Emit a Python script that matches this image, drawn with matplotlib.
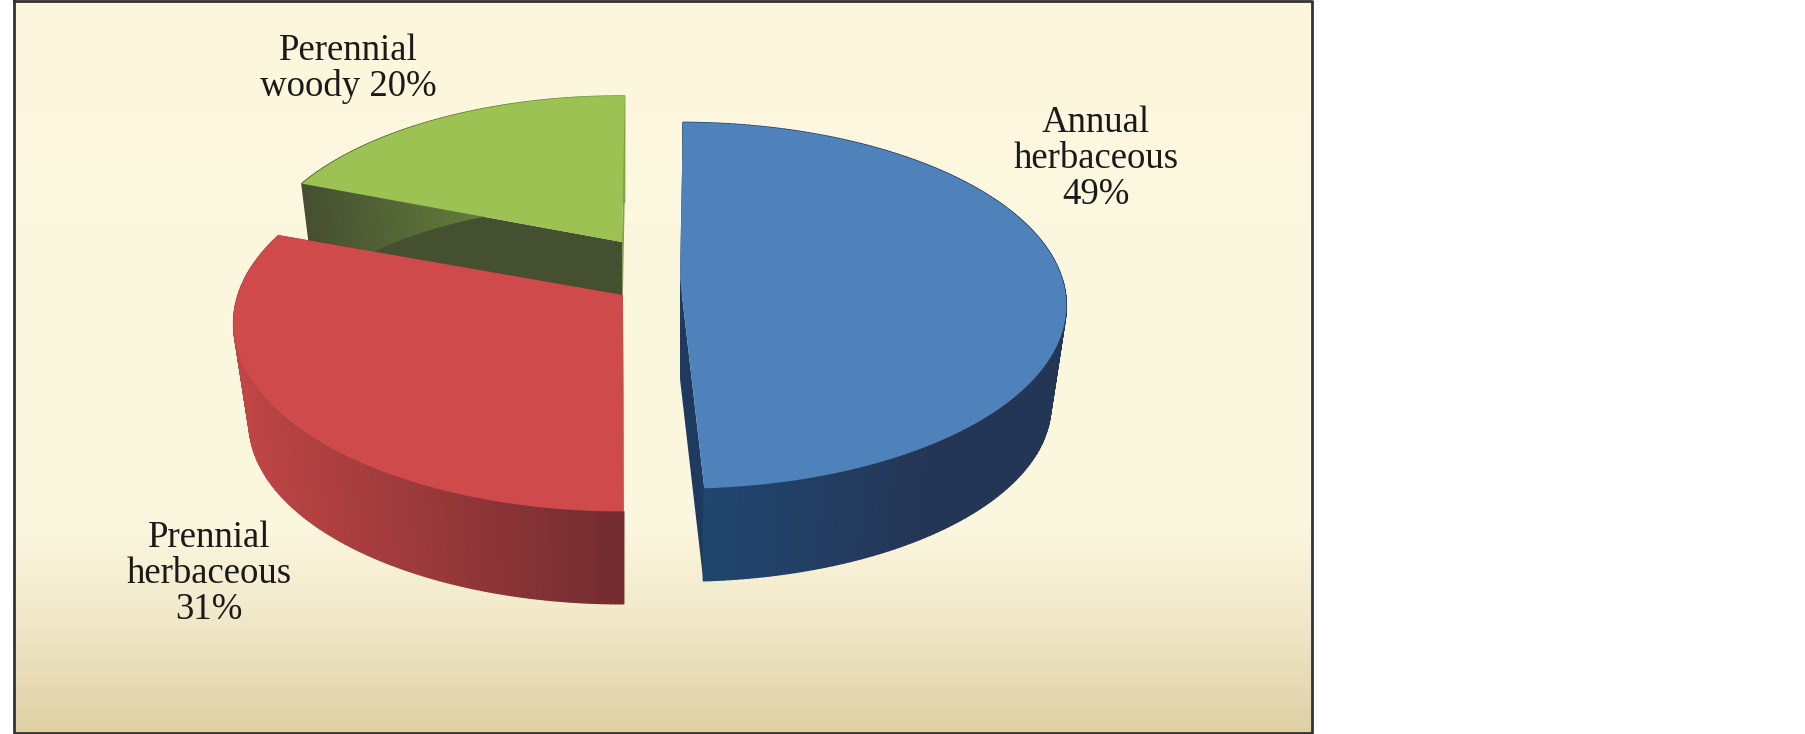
import numpy as np
import matplotlib
matplotlib.use('Agg')
import matplotlib.pyplot as plt
from matplotlib.colors import LinearSegmentedColormap, to_rgb

# Data
labels = ['Annual\nherbaceous\n49%', 'Prennial\nherbaceous\n31%', 'Perennial\nwoody 20%']
shares = [49, 31, 20]

# Slice look
face_colors = ['#4f82bb', '#cf4b4b', '#9bc253']
wall_left = ['#20466f', '#c04545', '#455030']
wall_right = ['#243656', '#722c30', '#7fa345']
cut_colors = ['#1f3a5f', '#722c30', '#455030']
far_cut_colors = ['#1f3a5f', '#722c30', '#7fa345']
apex_x = [680, 623, 622]
apex_y = [278, 295, 242]
width_px = [382, 385, 363]
height_px = [179, 184, 168]
start_nudge = [0, -3, -3]
end_nudge = [0, -1.5, 0]
label_x = [1096, 209, 348]
label_y = [159, 574, 69]

start_angle = 89.5
persp = 0.15
depth = 101
bottom_scale = 0.96

fig = plt.figure(figsize=(18.05, 7.34), dpi=100)
ax = fig.add_axes([0, 0, 1, 1])
ax.axis('off')

# Panel background
bg = LinearSegmentedColormap.from_list('bg', [(0, '#fdf6dc'), (0.3, '#fcf8e0'), (0.72, '#fbf6de'),
                                              (0.85, '#f1e8c8'), (1, '#dfd0a4')])
ax.imshow(np.linspace(0, 1, 256).reshape(-1, 1), cmap=bg, extent=(14, 1312, 733, 1), aspect='auto', zorder=0)
ax.plot([14, 1312, 1312, 14, 14], [1, 1, 733, 733, 1], color='#333333', lw=2, zorder=1)
ax.set_xlim(0, 1805)
ax.set_ylim(734, 0)


def rim(i, angles):
    t = np.radians(angles)
    w = 1 + persp * np.sin(t)
    x = apex_x[i] + width_px[i] * np.cos(t) / w
    y = apex_y[i] - height_px[i] * np.sin(t) / w
    return x, y


def lower(i, x, y):
    # bottom of the pie sits further from the camera, so it looks a bit smaller
    xb = apex_x[i] + (x - apex_x[i]) * bottom_scale
    yb = apex_y[i] + depth + (y - apex_y[i]) * bottom_scale
    return xb, yb


# Angles come from the shares, clockwise
spans = np.array(shares) / sum(shares) * 360
ends = start_angle - np.cumsum(spans)
starts = ends + spans

# Back to front: green, red, blue
for z, i in enumerate([2, 1, 0]):
    a = np.linspace(starts[i] + start_nudge[i], ends[i] + end_nudge[i], 200)
    x, y = rim(i, a)
    xb, yb = lower(i, x, y)
    cx, cy = lower(i, np.array(apex_x[i]), np.array(apex_y[i]))
    base = 2 + z * 3

    # cut faces
    ax.fill([apex_x[i], x[0], xb[0], cx], [apex_y[i], y[0], yb[0], cy], color=cut_colors[i], lw=0, zorder=base)
    ax.fill([apex_x[i], x[-1], xb[-1], cx], [apex_y[i], y[-1], yb[-1], cy], color=far_cut_colors[i], lw=0, zorder=base)

    # outer wall, shaded in thin strips
    c0, c1 = np.array(to_rgb(wall_left[i])), np.array(to_rgb(wall_right[i]))
    xmin, xmax = x.min(), x.max()
    for j in range(len(a) - 1):
        if i == 0:
            f = np.clip((x[j] - x[-1]) / 230, 0, 1)
        else:
            f = (x[j] - xmin) / (xmax - xmin)
        c = c0 + (c1 - c0) * f
        ax.fill([x[j], x[j + 1], xb[j + 1], xb[j]], [y[j], y[j + 1], yb[j + 1], yb[j]],
                facecolor=c, edgecolor=c, lw=1, zorder=base + 1)

    # top face
    ax.fill(np.r_[apex_x[i], x], np.r_[apex_y[i], y], color=face_colors[i], lw=0, zorder=base + 2)

    ax.text(label_x[i], label_y[i], labels[i], ha='center', va='center', ma='center',
            family='Liberation Serif', fontsize=26.5, color='#1a1a1a', linespacing=1.05, zorder=20)

plt.savefig('out.png', dpi=100)
